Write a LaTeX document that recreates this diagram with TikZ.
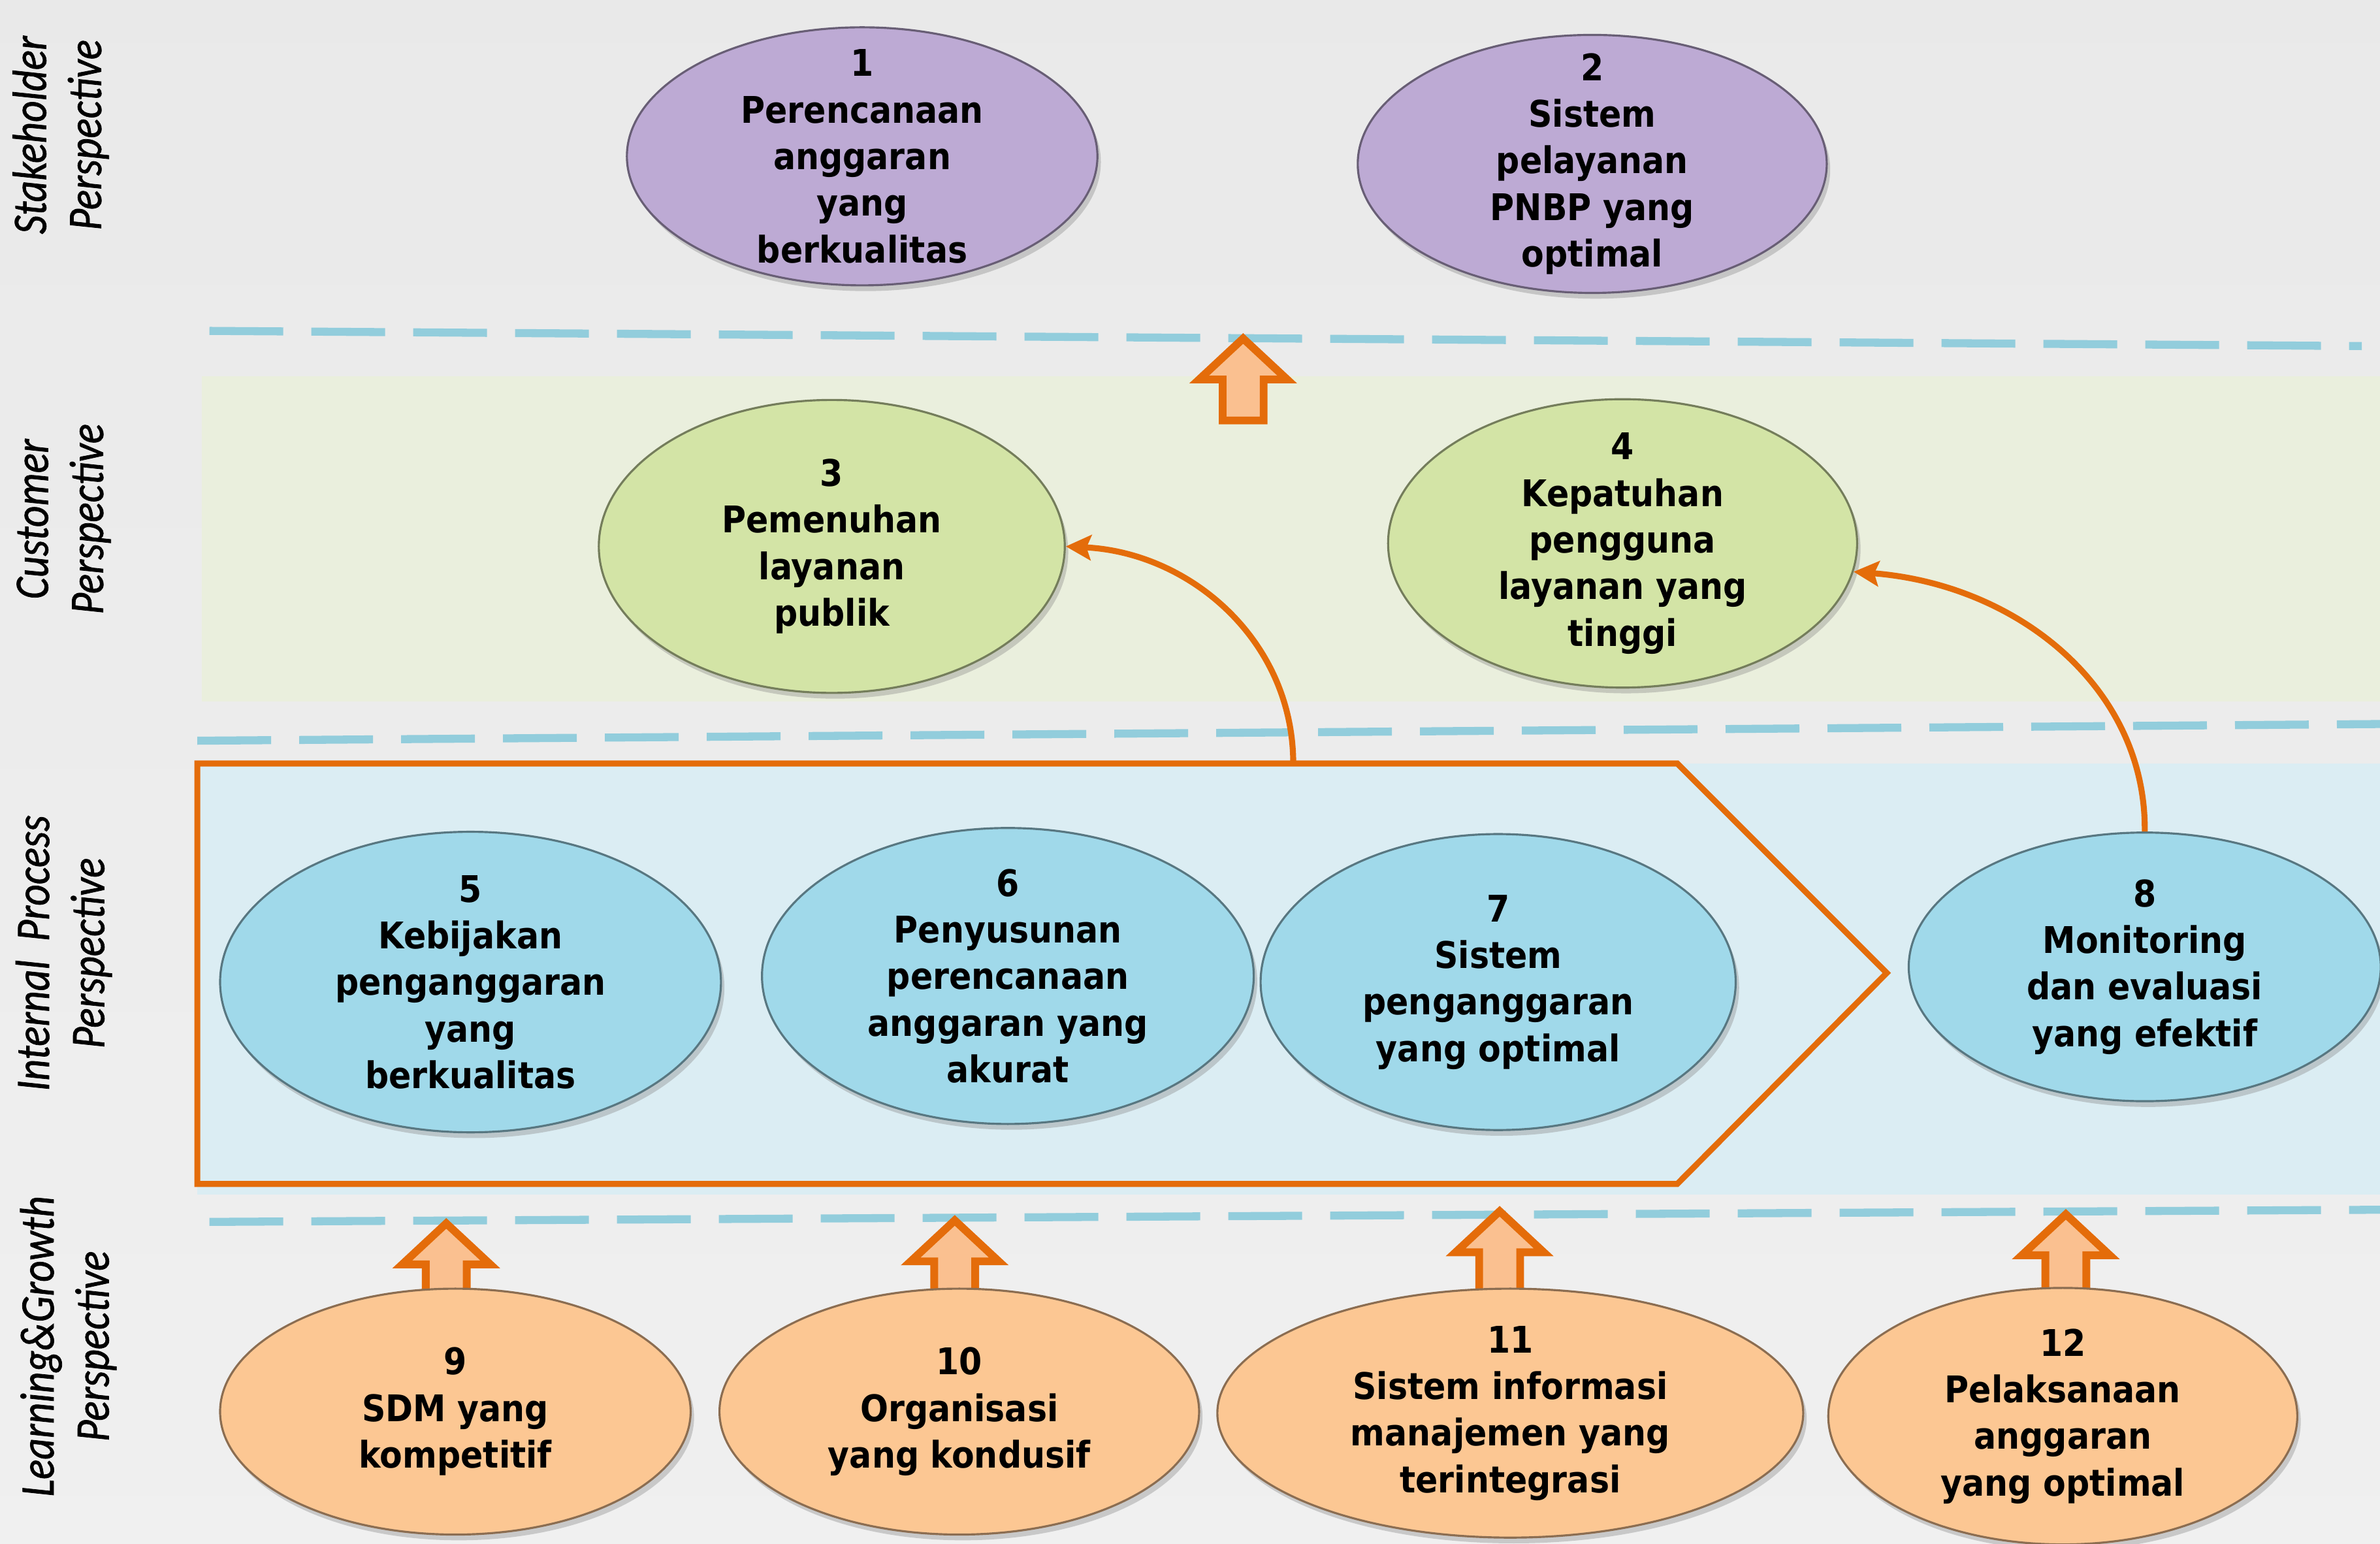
\documentclass[tikz,border=0pt]{standalone}
\usepackage{fontspec}
\usepackage{tikz}
\usetikzlibrary{shapes.geometric,arrows.meta,shadows}

\newfontfamily\goalfont[FakeStretch=0.9]{DejaVu Sans}
\newfontfamily\perspfont[FakeStretch=0.86,FakeBold=1]{Carlito}

\definecolor{cpurple}{HTML}{BDAAD4}
\definecolor{cgreen}{HTML}{D3E4A6}
\definecolor{cblue}{HTML}{A0D9EA}
\definecolor{corange}{HTML}{FCC793}
\definecolor{cline}{HTML}{92CDDC}
\definecolor{cchev}{HTML}{E46C0A}
\definecolor{carrow}{HTML}{FAC090}
\definecolor{bandgreen}{HTML}{EAEFDD}
\definecolor{bandblue}{HTML}{DBEDF3}

\newcommand{\pu}{0.2324mm}

\tikzset{
  goal/.style={ellipse, fill=#1, draw=#1!55!black, line width=0.9pt, inner sep=0pt,
    drop shadow={opacity=0.35, shadow xshift=1.5pt, shadow yshift=-2.5pt}},
  txt/.style={font=\goalfont\bfseries\fontsize{16}{20.3}\selectfont, align=center, text=black},
  persp/.style={rotate=90, align=center, font=\perspfont\itshape\fontsize{21}{24}\selectfont},
  sep/.style={draw=cline, line width=3.5pt, dash pattern=on 11.3mm off 4.3mm},
  chev/.style={draw=cchev, line width=2.6pt, line join=miter},
  flow/.style={draw=cchev, line width=2.6pt, ->},
  blockarr/.style={draw=cchev, fill=carrow, line width=3.4pt, line join=miter},
  uparr/.pic={\draw[blockarr] (0,0) -- (29,27) -- (13.5,27) -- (13.5,54) -- (-13.5,54) -- (-13.5,27) -- (-29,27) -- cycle;}
}

\begin{document}
\begin{tikzpicture}[x=\pu, y=-\pu, >={Stealth[length=11pt,width=11pt,inset=2pt]}]

\clip (0,0) rectangle (1568,1017);
\fill[top color=gray!17, bottom color=gray!12] (0,0) rectangle (1568,1017);

% bands
\fill[bandgreen] (133,248) rectangle (1568,462);
\fill[bandblue]  (130,503) rectangle (1568,787);

% separators
\draw[sep] (138,218) -- (1556,228);
\draw[sep] (130,488) -- (1568,477);
\draw[sep] (138,805) -- (1568,797);

% internal process chevron
\draw[chev] (130,503) -- (1105,503) -- (1243,641) -- (1105,780) -- (130,780) -- cycle;
\coordinate (cv) at (852,503);

% block arrows
\pic at (819,223) {uparr};
\foreach \x/\y in {294/806, 629/804, 988/798, 1361/800}
  \pic at (\x,\y) {uparr};

% perspectives
\node[persp] (pst) at (40,89)  {Stakeholder\\Perspective};
\node[persp] (pcu) at (42,342) {Customer\\Perspective};
\node[persp] (pip) at (42,628) {Internal~~Process\\Perspective};
\node[persp] (plg) at (45,887) {Learning\&Growth\\Perspective};

% goals
\node[goal=cpurple, minimum width=310*\pu, minimum height=170*\pu,
  label={[txt]center:{1\\Perencanaan\\anggaran\\yang\\berkualitas}}] (g1) at (568,103) {};
\node[goal=cpurple, minimum width=309*\pu, minimum height=170*\pu,
  label={[txt]center:{2\\Sistem\\pelayanan\\PNBP yang\\optimal}}] (g2) at (1049,108) {};

\node[goal=cgreen, minimum width=307*\pu, minimum height=193*\pu,
  label={[txt]center:{3\\Pemenuhan\\layanan\\publik}}] (g3) at (548,360) {};
\node[goal=cgreen, minimum width=309*\pu, minimum height=190*\pu,
  label={[txt]center:{4\\Kepatuhan\\pengguna\\layanan yang\\tinggi}}] (g4) at (1069,358) {};

\node[goal=cblue, minimum width=330*\pu, minimum height=198*\pu,
  label={[txt]center:{5\\Kebijakan\\penganggaran\\yang\\berkualitas}}] (g5) at (310,647) {};
\node[goal=cblue, minimum width=324*\pu, minimum height=195*\pu,
  label={[txt]center:{6\\Penyusunan\\perencanaan\\anggaran yang\\akurat}}] (g6) at (664,643) {};
\node[goal=cblue, minimum width=313*\pu, minimum height=195*\pu,
  label={[txt]center:{7\\Sistem\\penganggaran\\yang optimal}}] (g7) at (987,647) {};
\node[goal=cblue, minimum width=311*\pu, minimum height=177*\pu,
  label={[txt]center:{8\\Monitoring\\dan evaluasi\\yang efektif}}] (g8) at (1413,637) {};

\node[goal=corange, minimum width=310*\pu, minimum height=162*\pu,
  label={[txt]center:{9\\SDM yang\\kompetitif}}] (g9) at (300,930) {};
\node[goal=corange, minimum width=316*\pu, minimum height=162*\pu,
  label={[txt]center:{10\\Organisasi\\yang kondusif}}] (g10) at (632,930) {};
\node[goal=corange, minimum width=386*\pu, minimum height=164*\pu,
  label={[txt]center:{11\\Sistem informasi\\manajemen yang\\terintegrasi}}] (g11) at (995,931) {};
\node[goal=corange, minimum width=309*\pu, minimum height=169*\pu,
  label={[txt]center:{12\\Pelaksanaan\\anggaran\\yang optimal}}] (g12) at (1359,933) {};

% links
\draw[flow] (cv) .. controls (852,423) and (785,364) .. (g3.east);
\draw[flow] (g8.north) .. controls (1414,453) and (1329,385) .. (g4.-7);

\end{tikzpicture}
\end{document}
